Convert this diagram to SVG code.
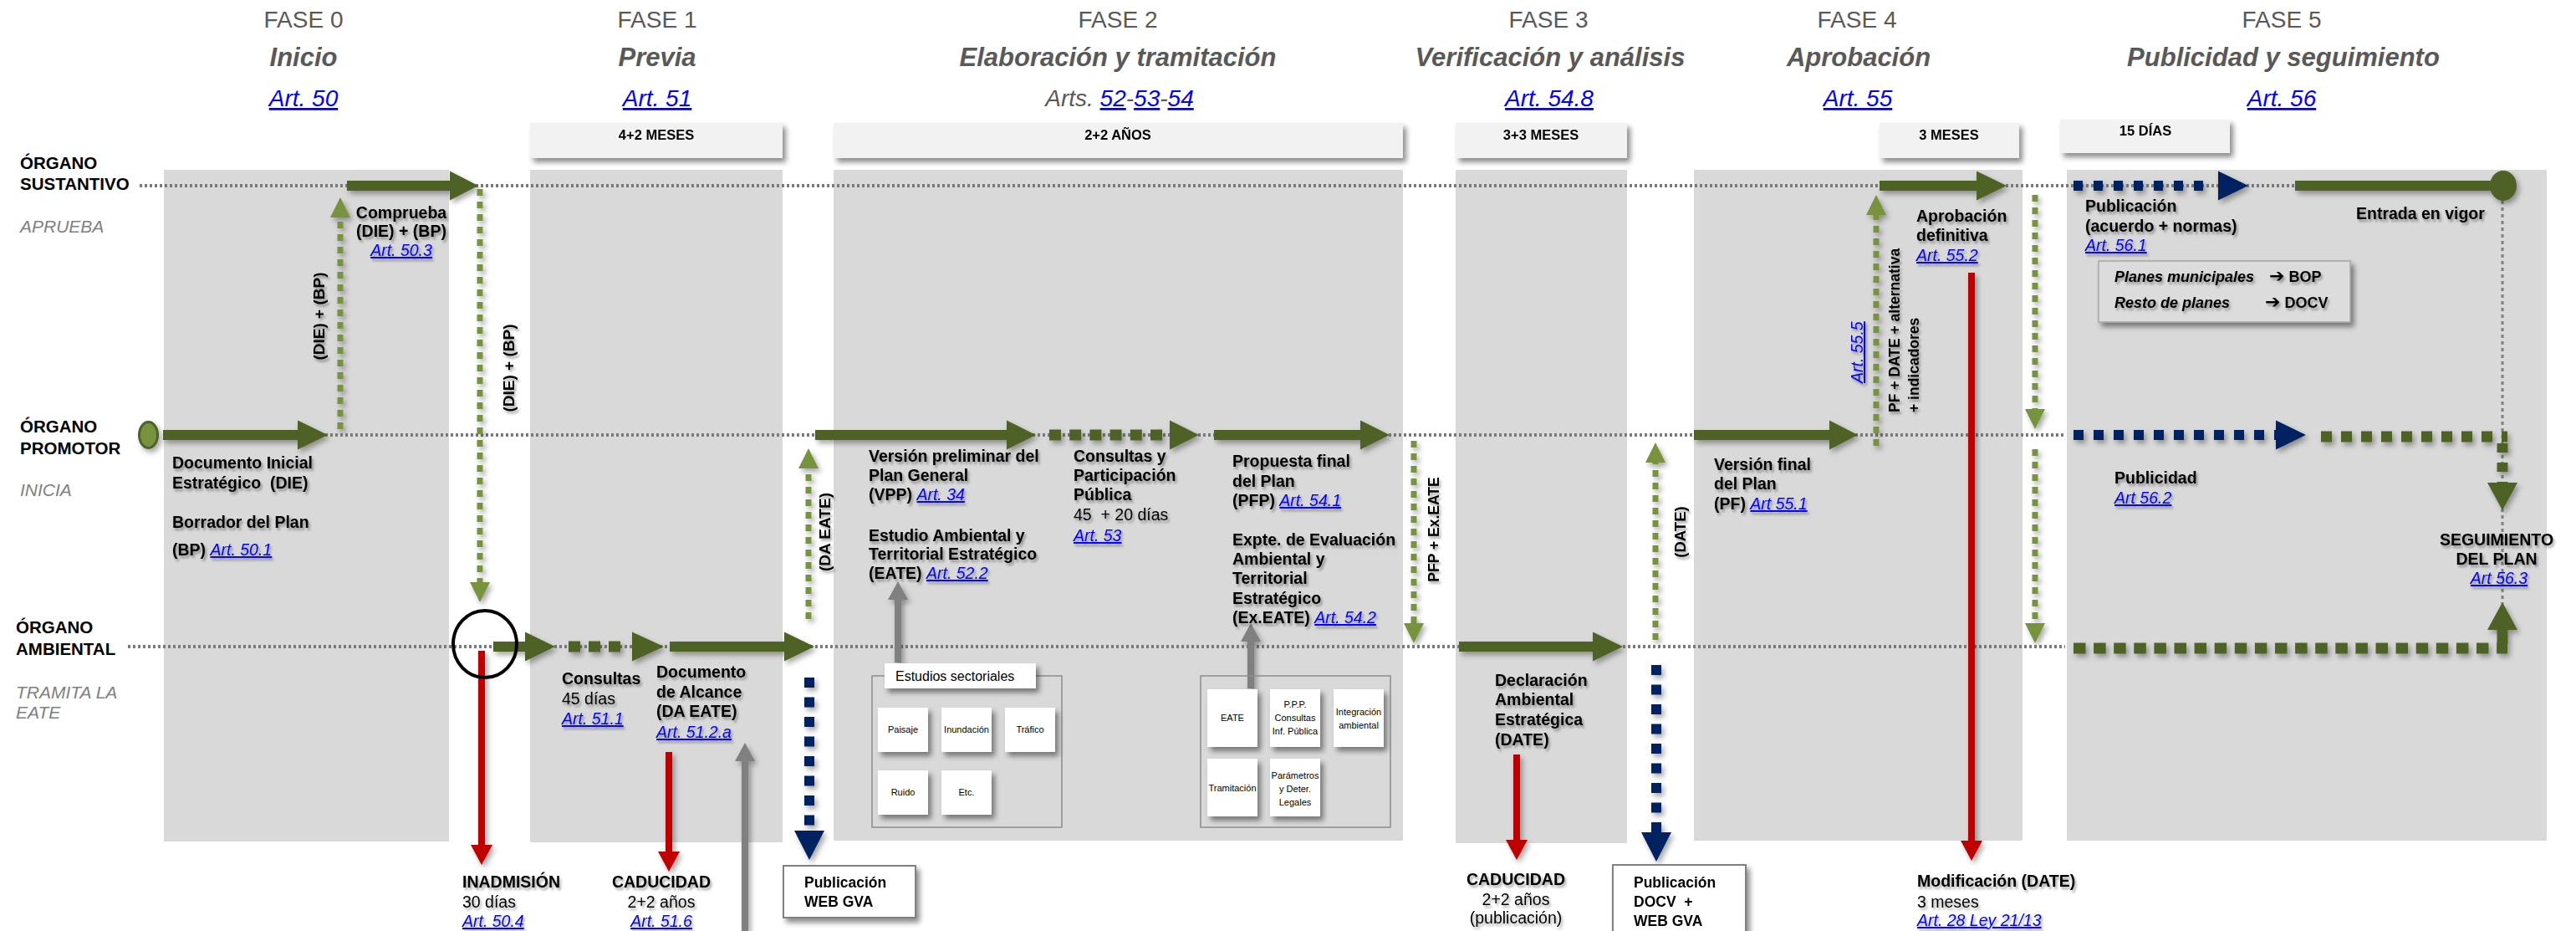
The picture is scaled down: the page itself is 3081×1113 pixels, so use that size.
<svg xmlns="http://www.w3.org/2000/svg" width="3081" height="1113" viewBox="0 0 3081 1113">
<style>
text{font-family:"Liberation Sans",Arial,"DejaVu Sans",sans-serif;fill:#000}
.t{font-size:19.5px}
.b{font-weight:bold}
.i{font-style:italic}
.lk{fill:#0000ff;font-style:italic;font-weight:normal;text-decoration:underline}
.ph{font-size:28px;fill:#595959;text-anchor:middle}
.pt{font-size:31px;font-weight:bold;font-style:italic;fill:#595959;text-anchor:middle}
.pl{font-size:28px;text-anchor:middle}
.lane{font-size:20.5px;font-weight:bold}
.role{font-size:21px;font-style:italic;fill:#7f7f7f}
.dur{font-size:16.5px;font-weight:bold;text-anchor:middle}
.col{fill:#d9d9d9}
.durbox{fill:#f2f2f2}
.dot{stroke:#7a7a7a;stroke-width:4;stroke-dasharray:3 3;fill:none}
.dg{fill:#4f6228}
.dgd{stroke:#4f6228;stroke-width:13;fill:none}
.lgd{stroke:#77933c;stroke-width:7;stroke-dasharray:8 7;fill:none}
.nvd{stroke:#002060;stroke-width:12;fill:none}
.red{stroke:#c00000;stroke-width:8;fill:none}
.gry{stroke:#808080;stroke-width:8;fill:none}
.sm{font-size:11px;text-anchor:middle}
.wb{fill:#fff}
.mid{text-anchor:middle}
.rot{font-size:19px;font-weight:bold}
.arw{font-size:22px;font-family:"DejaVu Sans",sans-serif}
</style>
<defs>
<filter id="ts" x="-10%" y="-30%" width="130%" height="170%"><feDropShadow dx="2" dy="3" stdDeviation="1.8" flood-color="#000" flood-opacity="0.35"/></filter>
<filter id="bs" x="-10%" y="-20%" width="130%" height="160%"><feDropShadow dx="4" dy="5" stdDeviation="3" flood-color="#000" flood-opacity="0.45"/></filter>
<filter id="as" x="-5%" y="-5%" width="110%" height="110%"><feDropShadow dx="3" dy="4" stdDeviation="3" flood-color="#000" flood-opacity="0.35"/></filter>
<marker id="mLG" markerUnits="userSpaceOnUse" viewBox="0 0 24 24" markerWidth="24" markerHeight="24" refX="0" refY="12" orient="auto"><path d="M0,0 L24,12 L0,24 Z" fill="#77933c"/></marker>
<marker id="mNV" markerUnits="userSpaceOnUse" viewBox="0 0 35 36" markerWidth="35" markerHeight="36" refX="0" refY="18" orient="auto"><path d="M0,0 L35,18 L0,36 Z" fill="#002060"/></marker>
<marker id="mRD" markerUnits="userSpaceOnUse" viewBox="0 0 24 26" markerWidth="24" markerHeight="26" refX="0" refY="13" orient="auto"><path d="M0,0 L24,13 L0,26 Z" fill="#c00000"/></marker>
<marker id="mGY" markerUnits="userSpaceOnUse" viewBox="0 0 22 24" markerWidth="22" markerHeight="24" refX="0" refY="12" orient="auto"><path d="M0,0 L22,12 L0,24 Z" fill="#808080"/></marker>
<marker id="mDG" markerUnits="userSpaceOnUse" viewBox="0 0 33 36" markerWidth="33" markerHeight="36" refX="0" refY="18" orient="auto"><path d="M0,0 L33,18 L0,36 Z" fill="#4f6228"/></marker>
</defs>

<!-- phase columns -->
<g id="columns">
<rect class="col" x="196" y="203" width="341" height="803"/>
<rect class="col" x="634" y="203" width="302" height="804"/>
<rect class="col" x="997" y="203" width="681" height="802"/>
<rect class="col" x="1741" y="203" width="205" height="805"/>
<rect class="col" x="2026" y="203" width="393" height="802"/>
<rect class="col" x="2472" y="203" width="574" height="802"/>
</g>

<!-- phase headers -->
<g id="fase0"><text class="ph" x="363" y="33">FASE 0</text><text class="pt" x="363" y="79">Inicio</text><text class="pl lk" x="363" y="127">Art. 50</text></g>
<g id="fase1"><text class="ph" x="786" y="33">FASE 1</text><text class="pt" x="786" y="79">Previa</text><text class="pl lk" x="786" y="127">Art. 51</text></g>
<g id="fase2"><text class="ph" x="1337" y="33">FASE 2</text><text class="pt" x="1337" y="79">Elaboración y tramitación</text><text class="pl i" x="1339" y="127" style="fill:#595959">Arts. <tspan class="lk">52</tspan>-<tspan class="lk">53</tspan>-<tspan class="lk">54</tspan></text></g>
<g id="fase3"><text class="ph" x="1852" y="33">FASE 3</text><text class="pt" x="1854" y="79">Verificación y análisis</text><text class="pl lk" x="1853" y="127">Art. 54.8</text></g>
<g id="fase4"><text class="ph" x="2221" y="33">FASE 4</text><text class="pt" x="2223" y="79">Aprobación</text><text class="pl lk" x="2222" y="127">Art. 55</text></g>
<g id="fase5"><text class="ph" x="2729" y="33">FASE 5</text><text class="pt" x="2731" y="79">Publicidad y seguimiento</text><text class="pl lk" x="2729" y="127">Art. 56</text></g>

<!-- duration boxes -->
<g id="dur1" filter="url(#bs)"><rect class="durbox" x="634" y="147" width="302" height="42"/><text class="dur" x="785" y="167">4+2 MESES</text></g>
<g id="dur2" filter="url(#bs)"><rect class="durbox" x="997" y="147" width="681" height="42"/><text class="dur" x="1337" y="167">2+2 AÑOS</text></g>
<g id="dur3" filter="url(#bs)"><rect class="durbox" x="1741" y="147" width="205" height="42"/><text class="dur" x="1843" y="167">3+3 MESES</text></g>
<g id="dur4" filter="url(#bs)"><rect class="durbox" x="2248" y="147" width="167" height="42"/><text class="dur" x="2331" y="167">3 MESES</text></g>
<g id="dur5" filter="url(#bs)"><rect class="durbox" x="2464" y="143" width="203" height="40"/><text class="dur" x="2566" y="162">15 DÍAS</text></g>

<!-- lane labels -->
<g id="lane-sustantivo"><text class="lane" x="24" y="202">ÓRGANO</text><text class="lane" x="24" y="227">SUSTANTIVO</text><text class="role" x="24" y="278">APRUEBA</text></g>
<g id="lane-promotor"><text class="lane" x="24" y="517">ÓRGANO</text><text class="lane" x="24" y="543">PROMOTOR</text><text class="role" x="24" y="593">INICIA</text></g>
<g id="lane-ambiental"><text class="lane" x="19" y="757">ÓRGANO</text><text class="lane" x="19" y="783">AMBIENTAL</text><text class="role" x="19" y="835">TRAMITA LA</text><text class="role" x="19" y="859">EATE</text></g>

<!-- lane lines -->
<g id="lanes">
<line class="dot" x1="167" y1="222" x2="2993" y2="222"/>
<line class="dot" x1="389" y1="520" x2="2470" y2="520"/>
<line class="dot" x1="153" y1="773" x2="2470" y2="773"/>
<line x1="2993" y1="240" x2="2993" y2="722" stroke="#808080" stroke-width="3" stroke-dasharray="4 4"/>
</g>

<!-- connectors -->
<g id="connectors" filter="url(#as)">
<path class="dg" d="M415,216 H538 V204.5 L572,222 L538,239.5 V228 H415 Z"/>
<path class="dg" d="M195,514 H356 V502.5 L392,520 L356,537.5 V526 H195 Z"/>
<path class="dg" d="M590,767 H628 V755.5 L664,773 L628,790.5 V779 H590 Z"/>
<line class="dgd" x1="680" y1="773" x2="742" y2="773" stroke-dasharray="14 10"/>
<path class="dg" d="M756,755.5 L794,773 L756,790.5 Z"/>
<path class="dg" d="M801,767 H938 V755.5 L974,773 L938,790.5 V779 H801 Z"/>
<path class="dg" d="M975,514 H1204 V502.5 L1239,520 L1204,537.5 V526 H975 Z"/>
<line class="dgd" x1="1255" y1="520" x2="1390" y2="520" stroke-dasharray="14 10.2"/>
<path class="dg" d="M1399,502.5 L1434,520 L1399,537.5 Z"/>
<path class="dg" d="M1452,514 H1627 V502.5 L1662,520 L1627,537.5 V526 H1452 Z"/>
<path class="dg" d="M1745,767 H1905 V755.5 L1941,773 L1905,790.5 V779 H1745 Z"/>
<path class="dg" d="M2026,514 H2188 V502.5 L2222,520 L2188,537.5 V526 H2026 Z"/>
<path class="dg" d="M2248,216 H2364 V204.5 L2400,222 L2364,239.5 V228 H2248 Z"/>
<line class="nvd" x1="2480" y1="222" x2="2640" y2="222" stroke-dasharray="11 13"/>
<path d="M2653,204.5 L2689,222 L2653,239.5 Z" fill="#002060"/>
<path class="dg" d="M2745,216 H2985 V228 H2745 Z"/>
<ellipse cx="2994" cy="222" rx="16" ry="18" fill="#4f6228"/>
<line class="nvd" x1="2480" y1="520" x2="2722" y2="520" stroke-dasharray="12 12"/>
<path d="M2722,502.5 L2758,520 L2722,537.5 Z" fill="#002060"/>
<line class="dgd" x1="2776" y1="522" x2="2999" y2="522" stroke-dasharray="13 11"/>
<line class="dgd" x1="2993" y1="530" x2="2993" y2="577" stroke-width="12" stroke-dasharray="11 12" marker-end="url(#mDG)"/>
<line class="dgd" x1="2480" y1="775" x2="2999" y2="775" stroke-dasharray="14.5 9.6"/>
<line class="dgd" x1="2993" y1="770" x2="2993" y2="753" stroke-width="14" marker-end="url(#mDG)"/>
<ellipse cx="177.5" cy="520" rx="11" ry="15.5" fill="#77933c" stroke="#4f6228" stroke-width="3"/>
<line class="lgd" x1="407" y1="513" x2="407" y2="260" marker-end="url(#mLG)"/>
<line class="lgd" x1="574" y1="226" x2="574" y2="696" marker-end="url(#mLG)"/>
<line class="lgd" x1="967" y1="740" x2="967" y2="560" marker-end="url(#mLG)"/>
<line class="lgd" x1="1691" y1="527" x2="1691" y2="745" marker-end="url(#mLG)"/>
<line class="lgd" x1="1980" y1="765" x2="1980" y2="553" marker-end="url(#mLG)"/>
<line class="lgd" x1="2244" y1="533" x2="2244" y2="257" marker-end="url(#mLG)"/>
<line class="lgd" x1="2434" y1="233" x2="2434" y2="489" marker-end="url(#mLG)"/>
<line class="lgd" x1="2434" y1="537" x2="2434" y2="745" marker-end="url(#mLG)"/>
<line class="nvd" x1="968" y1="810" x2="968" y2="993" stroke-dasharray="12 11.5" marker-end="url(#mNV)"/>
<line class="nvd" x1="1981" y1="795" x2="1981" y2="995" stroke-dasharray="12 11.5" marker-end="url(#mNV)"/>
<line class="red" x1="576" y1="778" x2="576" y2="1010" marker-end="url(#mRD)"/>
<line class="red" x1="800" y1="899" x2="800" y2="1018" marker-end="url(#mRD)"/>
<line class="red" x1="1814" y1="902" x2="1814" y2="1004" marker-end="url(#mRD)"/>
<line class="red" x1="2358" y1="326" x2="2358" y2="1005" marker-end="url(#mRD)"/>
<line class="gry" x1="891" y1="1113" x2="891" y2="910" marker-end="url(#mGY)"/>
<line class="gry" x1="1074" y1="792" x2="1074" y2="717" marker-end="url(#mGY)"/>
<line class="gry" x1="1496" y1="823" x2="1496" y2="767" marker-end="url(#mGY)"/>
</g>
<ellipse id="check-circle" cx="580" cy="770" rx="38" ry="40" fill="none" stroke="#000" stroke-width="4"/>

<!-- rotated connector labels -->
<g id="conn-labels" filter="url(#ts)">
<text class="rot" transform="translate(388,378) rotate(-90)" text-anchor="middle">(DIE) + (BP)</text>
<text class="rot" transform="translate(615,440) rotate(-90)" text-anchor="middle">(DIE) + (BP)</text>
<text class="rot" transform="translate(993,636) rotate(-90)" text-anchor="middle">(DA EATE)</text>
<text class="rot" transform="translate(1721,633) rotate(-90)" text-anchor="middle" style="font-size:17.5px">PFP + Ex.EATE</text>
<text class="rot" transform="translate(2016,636) rotate(-90)" text-anchor="middle" style="font-size:18.5px">(DATE)</text>
<text class="rot" transform="translate(2272,493) rotate(-90)" style="font-size:17.5px">PF + DATE + alternativa</text>
<text class="rot" transform="translate(2295,493) rotate(-90)" style="font-size:17.5px">+ indicadores</text>
<text class="t lk" transform="translate(2228,458) rotate(-90)">Art. 55.5</text>
</g>

<!-- nodes -->
<g id="n-die" filter="url(#ts)">
<text class="t b" x="206" y="560">Documento Inicial</text>
<text class="t b" x="206" y="584" xml:space="preserve">Estratégico  (DIE)</text>
<text class="t b" x="206" y="631">Borrador del Plan</text>
<text class="t b" x="206" y="664">(BP) <tspan class="lk">Art. 50.1</tspan></text>
</g>
<g id="n-comprueba" filter="url(#ts)">
<text class="t b mid" x="480" y="261">Comprueba</text>
<text class="t b mid" x="480" y="283">(DIE) + (BP)</text>
<text class="t lk mid" x="480" y="306">Art. 50.3</text>
</g>
<g id="n-inadmision" filter="url(#ts)">
<text class="t b" x="553" y="1061">INADMISIÓN</text>
<text class="t" x="553" y="1085">30 días</text>
<text class="t lk" x="553" y="1108">Art. 50.4</text>
</g>
<g id="n-consultas" filter="url(#ts)">
<text class="t b" x="672" y="818">Consultas</text>
<text class="t" x="672" y="842">45 días</text>
<text class="t lk" x="672" y="866">Art. 51.1</text>
</g>
<g id="n-alcance" filter="url(#ts)">
<text class="t b" x="785" y="810">Documento</text>
<text class="t b" x="785" y="834">de Alcance</text>
<text class="t b" x="785" y="857">(DA EATE)</text>
<text class="t lk" x="785" y="882">Art. 51.2.a</text>
</g>
<g id="n-caducidad1" filter="url(#ts)">
<text class="t b mid" x="791" y="1061">CADUCIDAD</text>
<text class="t mid" x="791" y="1085">2+2 años</text>
<text class="t lk mid" x="791" y="1108">Art. 51.6</text>
</g>
<g id="n-pubweb" filter="url(#bs)">
<rect x="937" y="1035" width="158" height="62" fill="#fff" stroke="#808080" stroke-width="2"/>
<text class="b" x="962" y="1061" style="font-size:17.5px">Publicación</text>
<text class="b" x="962" y="1084" style="font-size:17.5px">WEB GVA</text>
</g>
<g id="n-vpp" filter="url(#ts)">
<text class="t b" x="1039" y="552">Versión preliminar del</text>
<text class="t b" x="1039" y="575">Plan General</text>
<text class="t b" x="1039" y="598">(VPP) <tspan class="lk">Art. 34</tspan></text>
</g>
<g id="n-eate" filter="url(#ts)">
<text class="t b" x="1039" y="647">Estudio Ambiental y</text>
<text class="t b" x="1039" y="669">Territorial Estratégico</text>
<text class="t b" x="1039" y="692">(EATE) <tspan class="lk">Art. 52.2</tspan></text>
</g>
<g id="n-participacion" filter="url(#ts)">
<text class="t b" x="1284" y="552">Consultas y</text>
<text class="t b" x="1284" y="575">Participación</text>
<text class="t b" x="1284" y="598">Pública</text>
<text class="t" x="1284" y="622" xml:space="preserve">45  + 20 días</text>
<text class="t lk" x="1284" y="647">Art. 53</text>
</g>
<g id="n-pfp" filter="url(#ts)">
<text class="t b" x="1474" y="558">Propuesta final</text>
<text class="t b" x="1474" y="582">del Plan</text>
<text class="t b" x="1474" y="605">(PFP) <tspan class="lk">Art. 54.1</tspan></text>
</g>
<g id="n-exeate" filter="url(#ts)">
<text class="t b" x="1474" y="652">Expte. de Evaluación</text>
<text class="t b" x="1474" y="675">Ambiental y</text>
<text class="t b" x="1474" y="698">Territorial</text>
<text class="t b" x="1474" y="722">Estratégico</text>
<text class="t b" x="1474" y="745">(Ex.EATE) <tspan class="lk">Art. 54.2</tspan></text>
</g>
<g id="n-estudios">
<rect x="1043" y="808" width="227" height="181" fill="none" stroke="#8c8c8c" stroke-width="1.5"/>
<g filter="url(#bs)">
<rect class="wb" x="1058" y="793" width="181" height="30"/>
<rect class="wb" x="1050" y="846" width="60" height="53"/>
<rect class="wb" x="1126" y="846" width="60" height="53"/>
<rect class="wb" x="1202" y="846" width="60" height="53"/>
<rect class="wb" x="1050" y="921" width="60" height="53"/>
<rect class="wb" x="1126" y="921" width="60" height="53"/>
</g>
<text x="1071" y="814" style="font-size:16px">Estudios sectoriales</text>
<text class="sm" x="1080" y="876">Paisaje</text>
<text class="sm" x="1156" y="876">Inundación</text>
<text class="sm" x="1232" y="876">Tráfico</text>
<text class="sm" x="1080" y="951">Ruido</text>
<text class="sm" x="1156" y="951">Etc.</text>
</g>
<g id="n-expediente">
<rect x="1436" y="808" width="227" height="181" fill="none" stroke="#8c8c8c" stroke-width="1.5"/>
<g filter="url(#bs)">
<rect class="wb" x="1444" y="824" width="60" height="69"/>
<rect class="wb" x="1519" y="824" width="60" height="69"/>
<rect class="wb" x="1595" y="824" width="60" height="69"/>
<rect class="wb" x="1444" y="907" width="60" height="69"/>
<rect class="wb" x="1519" y="907" width="60" height="69"/>
</g>
<text class="sm" x="1474" y="862">EATE</text>
<text class="sm" x="1549" y="846">P.P.P.</text>
<text class="sm" x="1549" y="862">Consultas</text>
<text class="sm" x="1549" y="878">Inf. Pública</text>
<text class="sm" x="1625" y="855">Integración</text>
<text class="sm" x="1625" y="871">ambiental</text>
<text class="sm" x="1474" y="946">Tramitación</text>
<text class="sm" x="1549" y="931">Parámetros</text>
<text class="sm" x="1549" y="947">y Deter.</text>
<text class="sm" x="1549" y="963">Legales</text>
</g>
<g id="n-date" filter="url(#ts)">
<text class="t b" x="1788" y="820">Declaración</text>
<text class="t b" x="1788" y="843">Ambiental</text>
<text class="t b" x="1788" y="867">Estratégica</text>
<text class="t b" x="1788" y="891">(DATE)</text>
</g>
<g id="n-caducidad2" filter="url(#ts)">
<text class="t b mid" x="1813" y="1058">CADUCIDAD</text>
<text class="t mid" x="1813" y="1082">2+2 años</text>
<text class="t mid" x="1813" y="1104">(publicación)</text>
</g>
<g id="n-pubdocv" filter="url(#bs)">
<rect x="1929" y="1034" width="159" height="95" fill="#fff" stroke="#808080" stroke-width="2"/>
<text class="b" x="1954" y="1061" style="font-size:17.5px">Publicación</text>
<text class="b" x="1954" y="1084" style="font-size:17.5px" xml:space="preserve">DOCV  +</text>
<text class="b" x="1954" y="1107" style="font-size:17.5px">WEB GVA</text>
</g>
<g id="n-pf" filter="url(#ts)">
<text class="t b" x="2050" y="562">Versión final</text>
<text class="t b" x="2050" y="585">del Plan</text>
<text class="t b" x="2050" y="609">(PF) <tspan class="lk">Art 55.1</tspan></text>
</g>
<g id="n-aprobacion" filter="url(#ts)">
<text class="t b" x="2292" y="265">Aprobación</text>
<text class="t b" x="2292" y="288">definitiva</text>
<text class="t lk" x="2292" y="312">Art. 55.2</text>
</g>
<g id="n-modificacion" filter="url(#ts)">
<text class="t b" x="2293" y="1060">Modificación (DATE)</text>
<text class="t" x="2293" y="1085">3 meses</text>
<text class="t lk" x="2293" y="1107">Art. 28 Ley 21/13</text>
</g>
<g id="n-publicacion" filter="url(#ts)">
<text class="t b" x="2494" y="253">Publicación</text>
<text class="t b" x="2494" y="277">(acuerdo + normas)</text>
<text class="t lk" x="2494" y="300">Art. 56.1</text>
</g>
<g id="n-vigor" filter="url(#ts)">
<text class="t b" x="2818" y="262">Entrada en vigor</text>
</g>
<g id="n-boletines">
<rect x="2510" y="312" width="301" height="73" fill="#dcdcdc" stroke="#a6a6a6" stroke-width="1.5" filter="url(#bs)"/>
<g filter="url(#ts)">
<text class="b i" x="2529" y="337" style="font-size:18px">Planes municipales</text>
<text class="b" x="2714" y="337" style="font-size:18px"><tspan class="arw">➔</tspan> BOP</text>
<text class="b i" x="2529" y="368" style="font-size:18px">Resto de planes</text>
<text class="b" x="2709" y="368" style="font-size:18px"><tspan class="arw">➔</tspan> DOCV</text>
</g>
</g>
<g id="n-publicidad" filter="url(#ts)">
<text class="t b" x="2529" y="578">Publicidad</text>
<text class="t lk" x="2529" y="602">Art 56.2</text>
</g>
<g id="n-seguimiento" filter="url(#ts)">
<text class="t b mid" x="2986" y="652">SEGUIMIENTO</text>
<text class="t b mid" x="2986" y="675">DEL PLAN</text>
<text class="t lk mid" x="2989" y="698">Art 56.3</text>
</g>
</svg>
